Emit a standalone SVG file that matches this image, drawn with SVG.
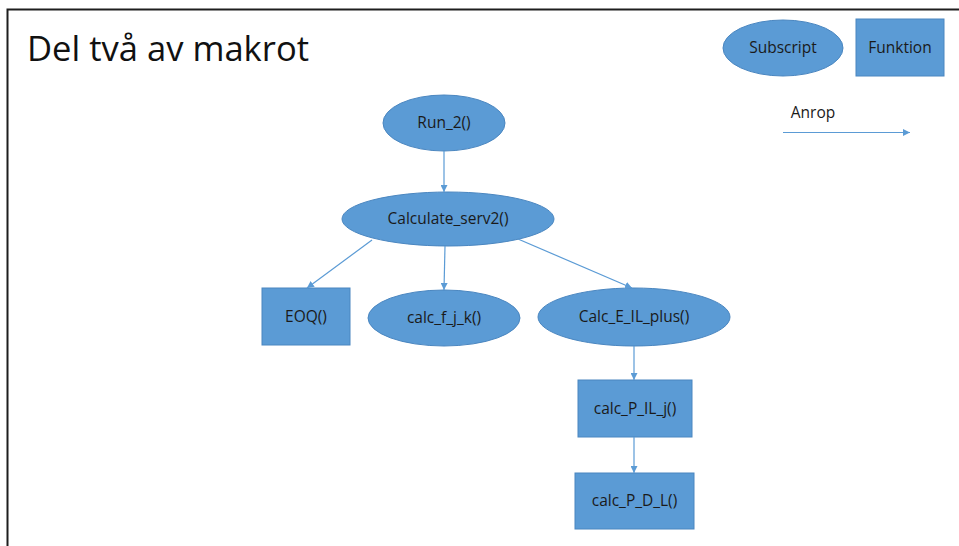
<svg xmlns="http://www.w3.org/2000/svg" width="959" height="546" viewBox="0 0 959 546">
<style>
.n{fill:#5b9bd5;stroke:#4a86c0;stroke-width:1}
.t{font-family:"Open Sans","Liberation Sans",Arial,sans-serif;font-size:15.5px;fill:#1a1a1a;text-anchor:middle}
.c{stroke:#5b9bd5;stroke-width:1.2;fill:none;marker-end:url(#ah)}
</style>
<defs>
<marker id="ah" viewBox="0 0 10 10" refX="10" refY="5" markerWidth="7" markerHeight="7" markerUnits="userSpaceOnUse" orient="auto">
<path d="M0,0 L10,5 L0,10 z" fill="#5b9bd5"/>
</marker>
</defs>
<rect x="0" y="0" width="959" height="546" fill="#fff"/>
<path d="M7.5,546 V9.5 H959" fill="none" stroke="#1e1e1e" stroke-width="2"/>
<text x="27" y="61" font-family="'Open Sans','Liberation Sans',Arial,sans-serif" font-size="35" fill="#111" textLength="282" lengthAdjust="spacingAndGlyphs">Del två av makrot</text>

<g id="legend-subscript"><ellipse class="n" cx="783" cy="48" rx="60" ry="28"/><text class="t" x="783" y="53">Subscript</text></g>
<g id="legend-funktion"><rect class="n" x="856" y="19" width="88" height="57"/><text class="t" x="900" y="53">Funktion</text></g>
<g id="legend-anrop"><text class="t" x="813" y="118">Anrop</text><line class="c" x1="783" y1="132.5" x2="910" y2="132.5"/></g>

<g id="run2"><ellipse class="n" cx="444" cy="123" rx="61" ry="28"/><text class="t" x="444" y="128">Run_2()</text></g>
<g id="calcserv2"><ellipse class="n" cx="448" cy="219" rx="106" ry="27"/><text class="t" x="448" y="224">Calculate_serv2()</text></g>
<g id="eoq"><rect class="n" x="262" y="288" width="88" height="57"/><text class="t" x="306" y="322">EOQ()</text></g>
<g id="calcfjk"><ellipse class="n" cx="444" cy="318" rx="76" ry="28"/><text class="t" x="444" y="323">calc_f_j_k()</text></g>
<g id="calceilplus"><ellipse class="n" cx="634" cy="317" rx="96" ry="29"/><text class="t" x="634" y="322">Calc_E_IL_plus()</text></g>
<g id="calcpilj"><rect class="n" x="578" y="380" width="114" height="57"/><text class="t" x="635" y="414">calc_P_IL_j()</text></g>
<g id="calcpdl"><rect class="n" x="575" y="473" width="119" height="56"/><text class="t" x="634.5" y="506">calc_P_D_L()</text></g>

<g id="connectors">
<line class="c" x1="444" y1="151" x2="444" y2="192"/>
<line class="c" x1="372" y1="240" x2="307" y2="288"/>
<line class="c" x1="445" y1="246" x2="444" y2="290"/>
<line class="c" x1="518" y1="239" x2="632" y2="288"/>
<line class="c" x1="634" y1="346" x2="634" y2="380"/>
<line class="c" x1="634" y1="437" x2="634" y2="473"/>
</g>
</svg>
